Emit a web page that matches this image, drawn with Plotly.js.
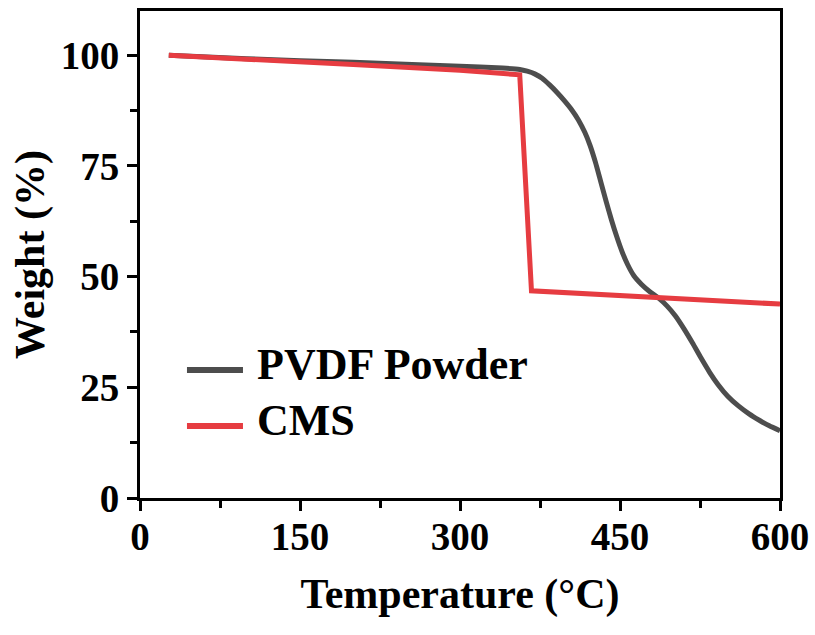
<!DOCTYPE html>
<html>
<head>
<meta charset="utf-8">
<script src="https://cdn.plot.ly/plotly-3.0.1.min.js"></script>
<style>
  html, body { margin: 0; padding: 0; background: #ffffff; }
  #chart { width: 815px; height: 635px; }
</style>
</head>
<body>
<div id="chart"></div>
<script>
// TGA curves: weight retention vs. temperature
const seriesNames = ["PVDF Powder", "CMS"];

const pvdfTemp = [27, 100, 200, 300, 340, 356, 363, 370, 377, 384, 391, 398, 405, 411, 417, 422, 427, 432, 437, 442, 447, 452, 457, 463, 470, 478, 486, 494, 502, 510, 518, 526, 534, 542, 551, 561, 571, 581, 590, 600];
const pvdfWeight = [100, 99.2, 98.4, 97.5, 97.1, 96.8, 96.4, 95.8, 94.8, 93.3, 91.6, 89.7, 87.6, 85.4, 82.6, 79.6, 75.8, 71.4, 67.0, 62.8, 59.0, 55.6, 52.8, 50.2, 48.3, 46.6, 45.2, 43.4, 41.1, 38.2, 35.0, 31.6, 28.4, 25.6, 23.0, 20.8, 19.0, 17.5, 16.3, 15.2];

const cmsTemp = [27, 100, 200, 300, 356, 367, 420, 478, 540, 600];
const cmsWeight = [100, 99.0, 97.9, 96.6, 95.6, 46.8, 46.1, 45.3, 44.6, 43.8];

const xTicks = [0, 150, 300, 450, 600];
const yTicks = [0, 25, 50, 75, 100];

const colors = ["#4d4d4d", "#e63c41"];
const serif = "Liberation Serif";

const traces = [
  { x: pvdfTemp, y: pvdfWeight, name: seriesNames[0], mode: "lines",
    line: { color: colors[0], width: 5, shape: "spline", smoothing: 0.6 } },
  { x: cmsTemp, y: cmsWeight, name: seriesNames[1], mode: "lines",
    line: { color: colors[1], width: 5 } }
];

const axisCommon = {
  showgrid: false, zeroline: false,
  showline: true, linecolor: "#000", linewidth: 3, mirror: true,
  ticks: "outside", ticklen: 10, tickwidth: 3, tickcolor: "#000",
  tickfont: { family: serif, size: 39, color: "#000", weight: "bold" },
  title: { font: { family: serif, size: 42, color: "#000", weight: "bold" } }
};

// hand-built legend: short line segments with bold labels
const legendRows = [0.2628, 0.1478];
const shapes = legendRows.map((yy, i) => ({
  type: "line", xref: "paper", yref: "paper",
  x0: 0.0734, x1: 0.1609, y0: yy, y1: yy,
  line: { color: colors[i], width: 6 }
}));
const annotations = legendRows.map((yy, i) => ({
  xref: "paper", yref: "paper", x: 0.1797, y: yy + 0.012,
  xanchor: "left", yanchor: "middle", showarrow: false,
  text: seriesNames[i],
  font: { family: serif, size: 44, color: "#000", weight: "bold" }
}));

const layout = {
  width: 815, height: 635,
  margin: { l: 140, r: 35, t: 11, b: 137 },
  paper_bgcolor: "#fff", plot_bgcolor: "#fff",
  showlegend: false,
  xaxis: Object.assign({}, axisCommon, {
    range: [0, 600], tickvals: xTicks, ticklabelstandoff: -8,
    minor: { tickvals: [75, 225, 375, 525], ticks: "outside", ticklen: 7, tickwidth: 3, tickcolor: "#000" },
    title: Object.assign({}, axisCommon.title, { text: "Temperature (°C)", standoff: 22 })
  }),
  yaxis: Object.assign({}, axisCommon, {
    range: [0, 110], tickvals: yTicks,
    minor: { tickvals: [12.5, 37.5, 62.5, 87.5], ticks: "outside", ticklen: 7, tickwidth: 3, tickcolor: "#000" },
    title: Object.assign({}, axisCommon.title, { text: "Weight (%)", standoff: 4 })
  }),
  shapes: shapes,
  annotations: annotations
};

Plotly.newPlot("chart", traces, layout, { displayModeBar: false, staticPlot: true });
</script>
</body>
</html>
